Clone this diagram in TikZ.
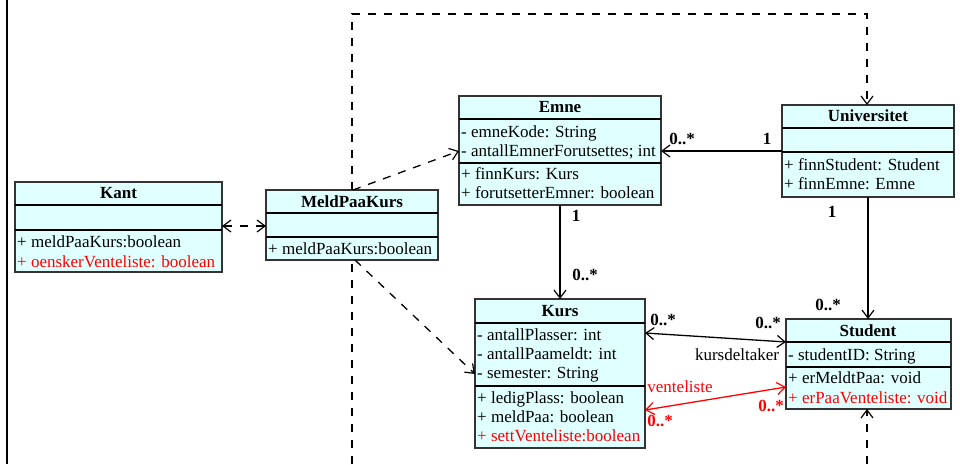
\documentclass[tikz,border=0pt]{standalone}
\usepackage{fontspec}
\setmainfont{Liberation Serif}
\usetikzlibrary{arrows.meta}
\definecolor{clsfill}{RGB}{224,255,255}
\definecolor{umlred}{RGB}{255,0,0}
\begin{document}
\begin{tikzpicture}[x=1pt,y=-1pt,
  cls/.style={draw=black!80, fill=clsfill, line width=1.2pt, inner sep=0pt, outer sep=0pt, anchor=north west},
  sep/.style={line width=1.6pt},
  ttl/.style={font=\fontsize{17}{20}\selectfont\bfseries, anchor=base, inner sep=0pt},
  txt/.style={font=\fontsize{17}{20}\selectfont, anchor=base west, inner sep=0pt},
  rtxt/.style={txt, text=umlred},
  lbl/.style={font=\fontsize{17}{20}\selectfont, inner sep=0pt},
  mult/.style={font=\fontsize{17}{20}\selectfont\bfseries, inner sep=0pt},
  tip/.tip={Straight Barb[length=8pt,width=12pt,line width=1.2pt]},
  conn/.style={line width=1.3pt, -tip},
  both/.style={line width=1.3pt, tip-tip},
  dep/.style={line width=1.3pt, dash pattern=on 8pt off 8pt},
]
\useasboundingbox (0,0) rectangle (960,464);

% left frame line
\coordinate (lt) at (7,0);
\coordinate (lb) at (7,464);
\draw[line width=1.5pt] (lt) -- (lb);

% ---------- Kant ----------
\node[cls, minimum width=207pt, minimum height=90pt] (kant) at (15,182) {};
\draw[sep] (kant.west |- 0,205) -- (kant.east |- 0,205);
\draw[sep] (kant.west |- 0,230) -- (kant.east |- 0,230);
\node[ttl] (kantT) at (118.5,198) {Kant};
\node[txt] (kantM1) at (17,247) {+ meldPaaKurs:boolean};
\node[rtxt] (kantM2) at (17,267) {+ oenskerVenteliste: boolean};

% ---------- MeldPaaKurs ----------
\node[cls, minimum width=172pt, minimum height=70pt] (mpk) at (266,190) {};
\draw[sep] (mpk.west |- 0,213) -- (mpk.east |- 0,213);
\draw[sep] (mpk.west |- 0,237) -- (mpk.east |- 0,237);
\node[ttl] (mpkT) at (352,207) {MeldPaaKurs};
\node[txt] (mpkM1) at (268,254) {+ meldPaaKurs:boolean};

% ---------- Emne ----------
\node[cls, minimum width=202pt, minimum height=109pt] (emne) at (459,96) {};
\draw[sep] (emne.west |- 0,119) -- (emne.east |- 0,119);
\draw[sep] (emne.west |- 0,163) -- (emne.east |- 0,163);
\node[ttl] (emneT) at (560,112) {Emne};
\node[txt] (emneA1) at (461,137) {- emneKode: String};
\node[txt] (emneA2) at (461,156) {- antallEmnerForutsettes; int};
\node[txt] (emneM1) at (461,179) {+ finnKurs: Kurs};
\node[txt] (emneM2) at (461,198) {+ forutsetterEmner: boolean};

% ---------- Universitet ----------
\node[cls, minimum width=172pt, minimum height=92pt] (univ) at (782,105) {};
\draw[sep] (univ.west |- 0,128) -- (univ.east |- 0,128);
\draw[sep] (univ.west |- 0,152) -- (univ.east |- 0,152);
\node[ttl] (univT) at (868,121) {Universitet};
\node[txt] (univM1) at (784,170) {+ finnStudent: Student};
\node[txt] (univM2) at (784,189) {+ finnEmne: Emne};

% ---------- Kurs ----------
\node[cls, minimum width=170pt, minimum height=149pt] (kurs) at (475,299) {};
\draw[sep] (kurs.west |- 0,323) -- (kurs.east |- 0,323);
\draw[sep] (kurs.west |- 0,386) -- (kurs.east |- 0,386);
\node[ttl] (kursT) at (560,316) {Kurs};
\node[txt] (kursA1) at (477,340) {- antallPlasser: int};
\node[txt] (kursA2) at (477,359) {- antallPaameldt: int};
\node[txt] (kursA3) at (477,378) {- semester: String};
\node[txt] (kursM1) at (477,403) {+ ledigPlass: boolean};
\node[txt] (kursM2) at (477,422) {+ meldPaa: boolean};
\node[rtxt] (kursM3) at (477,441) {+ settVenteliste:boolean};

% ---------- Student ----------
\node[cls, minimum width=165pt, minimum height=90pt] (student) at (786,319) {};
\draw[sep] (student.west |- 0,342) -- (student.east |- 0,342);
\draw[sep] (student.west |- 0,367) -- (student.east |- 0,367);
\node[ttl] (studentT) at (868,336) {Student};
\node[txt] (studentA1) at (788,360) {- studentID: String};
\node[txt] (studentM1) at (788,383) {+ erMeldtPaa: void};
\node[rtxt] (studentM2) at (788,403) {+ erPaaVenteliste: void};

% ---------- connectors ----------
% Kant <-> MeldPaaKurs
\draw[dep, tip-tip] (kant.east |- 0,226) -- (mpk.west |- 0,226);
% MeldPaaKurs -> Emne
\draw[dep, -tip] (mpk.north -| 353,0) -- (emne.west |- 0,151);
% MeldPaaKurs -> Kurs
\draw[dep, -tip] (mpk.south -| 355,0) -- (kurs.west |- 0,374);
% MeldPaaKurs -> Universitet (around top)
\draw[dep, -tip] (mpk.north -| 352,0) -- (352,14) -- (867,14) -- (univ.north -| 867,0);
% bottom dashed lines
\coordinate (mpkfoot) at (352,464);
\draw[dep] (mpkfoot) -- (mpk.south -| mpkfoot);
\coordinate (stufoot) at (867,464);
\draw[dep, -tip] (stufoot) -- (student.south -| stufoot);

% Universitet -> Emne
\draw[conn] (univ.west |- 0,151) -- (emne.east |- 0,151);
\node[mult] (m1) at (682,139) {0..*};
\node[mult] (m2) at (767,139) {1};
% Universitet -> Student
\draw[conn] (univ.south -| 868,0) -- (student.north -| 868,0);
\node[mult] (m3) at (832,212) {1};
\node[mult] (m4) at (828,305) {0..*};
% Emne -> Kurs
\draw[conn] (emne.south -| 560,0) -- (kurs.north -| 560,0);
\node[mult] (m5) at (576,216) {1};
\node[mult] (m6) at (585,275) {0..*};
% Kurs <-> Student (kursdeltaker)
\draw[both] (kurs.east |- 0,333) -- (student.west |- 0,342);
\node[mult] (m7) at (663,320) {0..*};
\node[mult] (m8) at (768,323) {0..*};
\node[lbl] (kd) at (737,355) {kursdeltaker};
% Kurs <-> Student (venteliste)
\draw[both, draw=umlred] (kurs.east |- 0,410) -- (student.west |- 0,387);
\node[lbl, text=umlred] (vl) at (680,387) {venteliste};
\node[mult, text=umlred] (m9) at (660,421) {0..*};
\node[mult, text=umlred] (m10) at (771,406) {0..*};
\end{tikzpicture}
\end{document}
